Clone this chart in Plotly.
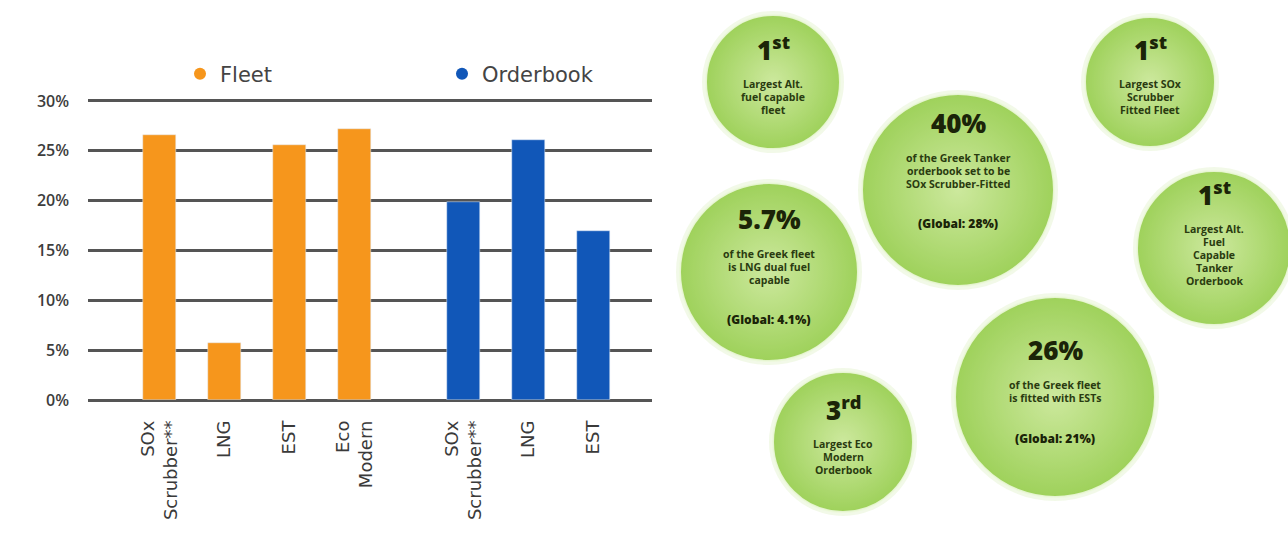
import plotly.graph_objects as go

# ---- bar chart data -------------------------------------------------------
fleet_labels = ["SOx<br>Scrubber**", "LNG", "EST", "Eco<br>Modern"]
fleet_values = [26.6, 5.7, 25.6, 27.2]
orderbook_labels = ["SOx<br>Scrubber**", "LNG", "EST"]
orderbook_values = [19.9, 26.1, 17.0]
y_ticks = [0, 5, 10, 15, 20, 25, 30]

# ---- infographic bubbles --------------------------------------------------
bubble_headlines = ["1<sup>st</sup>", "40%", "1<sup>st</sup>", "5.7%",
                    "1<sup>st</sup>", "3<sup>rd</sup>", "26%"]
bubble_captions = [
    ["Largest Alt.", "fuel capable", "fleet"],
    ["of the Greek Tanker", "orderbook set to be", "SOx Scrubber-Fitted"],
    ["Largest SOx", "Scrubber", "Fitted Fleet"],
    ["of the Greek fleet", "is LNG dual fuel", "capable"],
    ["Largest Alt.", "Fuel", "Capable", "Tanker", "Orderbook"],
    ["Largest Eco", "Modern", "Orderbook"],
    ["of the Greek fleet", "is fitted with ESTs"],
]
bubble_globals = ["", "(Global: 28%)", "", "(Global: 4.1%)", "", "", "(Global: 21%)"]

# bubble placement (pixel space of the right-hand panel)
bubble_cx = [773, 958, 1150, 769, 1214, 843, 1055]
bubble_cy = [82, 190, 82, 272, 248, 442, 397]
bubble_r = [67, 96, 65, 89, 77, 70, 100]
text_shift = [0, -14, 0, 0, -8, 0, 0]

FLEET_COLOR = "#f6961c"
ORDER_COLOR = "#1157b8"
GRID_COLOR = "#555555"
FONT = "Open Sans"

W, H = 1288, 553
PANEL_LEFT = 664  # left edge of the bubble panel, px

# slot positions: one slot per bar, a narrower gap between the two groups
group_gap = 0.68
fleet_x = list(range(len(fleet_values)))
order_x = [len(fleet_values) + group_gap + i for i in range(len(orderbook_values))]

fig = go.Figure()

fig.add_trace(go.Bar(x=fleet_x, y=fleet_values, marker_color=FLEET_COLOR,
                     width=0.52, showlegend=False, hoverinfo="skip"))
fig.add_trace(go.Bar(x=order_x, y=orderbook_values, marker_color=ORDER_COLOR,
                     width=0.52, showlegend=False, hoverinfo="skip"))

# round legend dots
for name, col in (("Fleet", FLEET_COLOR), ("Orderbook", ORDER_COLOR)):
    fig.add_trace(go.Scatter(x=[None], y=[None], mode="markers", name=name,
                             marker=dict(color=col, size=12, symbol="circle")))

# bubbles: soft halo + radial-gradient body
fig.add_trace(go.Scatter(
    x=bubble_cx, y=bubble_cy, xaxis="x2", yaxis="y2", mode="markers",
    marker=dict(size=[2 * r + 8 for r in bubble_r], color="rgba(160,215,90,0.2)",
                line=dict(width=0)),
    showlegend=False, hoverinfo="skip", cliponaxis=False))
fig.add_trace(go.Scatter(
    x=bubble_cx, y=bubble_cy, xaxis="x2", yaxis="y2", mode="markers",
    marker=dict(size=[2 * r for r in bubble_r], color="#7cc120",
                gradient=dict(type="radial", color="#bde27e"),
                line=dict(width=2, color="rgba(235,248,215,0.9)")),
    showlegend=False, hoverinfo="skip", cliponaxis=False))

annotations = []
HEAD_TO_CAP = 35
CAP_STEP = 13
CAP_TO_GLOBAL = 40
for i in range(len(bubble_cx)):
    n = len(bubble_captions[i])
    span = HEAD_TO_CAP + (n - 1) * CAP_STEP + (CAP_TO_GLOBAL if bubble_globals[i] else 0)
    y0 = bubble_cy[i] - 3 + text_shift[i] - span / 2
    cx = bubble_cx[i]
    annotations.append(dict(
        x=cx, y=y0, xref="x2", yref="y2", text=bubble_headlines[i], showarrow=False,
        font=dict(family=FONT, size=26, color="#1b2408", weight=800),
        xanchor="center", yanchor="middle"))
    for j, line in enumerate(bubble_captions[i]):
        annotations.append(dict(
            x=cx, y=y0 + HEAD_TO_CAP + j * CAP_STEP, xref="x2", yref="y2", text=line,
            showarrow=False, font=dict(family=FONT, size=10.5, color="#2a3b10", weight=700),
            xanchor="center", yanchor="middle"))
    if bubble_globals[i]:
        annotations.append(dict(
            x=cx, y=y0 + HEAD_TO_CAP + (n - 1) * CAP_STEP + CAP_TO_GLOBAL, xref="x2", yref="y2",
            text=bubble_globals[i], showarrow=False,
            font=dict(family=FONT, size=12, color="#1b2408", weight=800),
            xanchor="center", yanchor="middle"))

# bar plot area in paper fractions
x_left, x_right = 88 / W, 652 / W
y_bottom, y_top = 1 - 400 / H, 1 - 98 / H

fig.update_layout(
    width=W, height=H,
    margin=dict(l=0, r=0, t=0, b=0),
    paper_bgcolor="white", plot_bgcolor="rgba(0,0,0,0)",
    font=dict(family=FONT, color="#333333"),
    bargap=0,
    xaxis=dict(domain=[x_left, x_right], range=[-1.1, 7.58], automargin=False,
               tickvals=fleet_x + order_x, ticktext=fleet_labels + orderbook_labels,
               tickangle=-90, tickfont=dict(size=18, color="#3a3a3a", family="DejaVu Sans"),
               showgrid=False, zeroline=False, showline=False, ticks="",
               ticklabelstandoff=16, fixedrange=True),
    yaxis=dict(domain=[y_bottom, y_top], range=[0, 30.3], automargin=False,
               tickvals=y_ticks, ticktext=[f"{v}%" for v in y_ticks],
               tickfont=dict(size=16, color="#3d3d3d", weight=600),
               showgrid=True, gridcolor=GRID_COLOR, gridwidth=3,
               zeroline=True, zerolinecolor=GRID_COLOR, zerolinewidth=3,
               showline=False, ticks="", ticklabelstandoff=18, fixedrange=True),
    xaxis2=dict(domain=[PANEL_LEFT / W, 1], range=[PANEL_LEFT, W], visible=False,
                fixedrange=True, anchor="y2", automargin=False),
    yaxis2=dict(domain=[0, 1], range=[H, 0], visible=False, fixedrange=True,
                anchor="x2", automargin=False),
    legend=dict(orientation="h", x=180 / W, y=1 - 74 / H, xanchor="left", yanchor="middle",
                entrywidth=217, entrywidthmode="pixels",
                font=dict(size=21, color="#444444", family="DejaVu Sans"),
                bgcolor="rgba(0,0,0,0)"),
    annotations=annotations,
)

fig.write_html("out.html")
